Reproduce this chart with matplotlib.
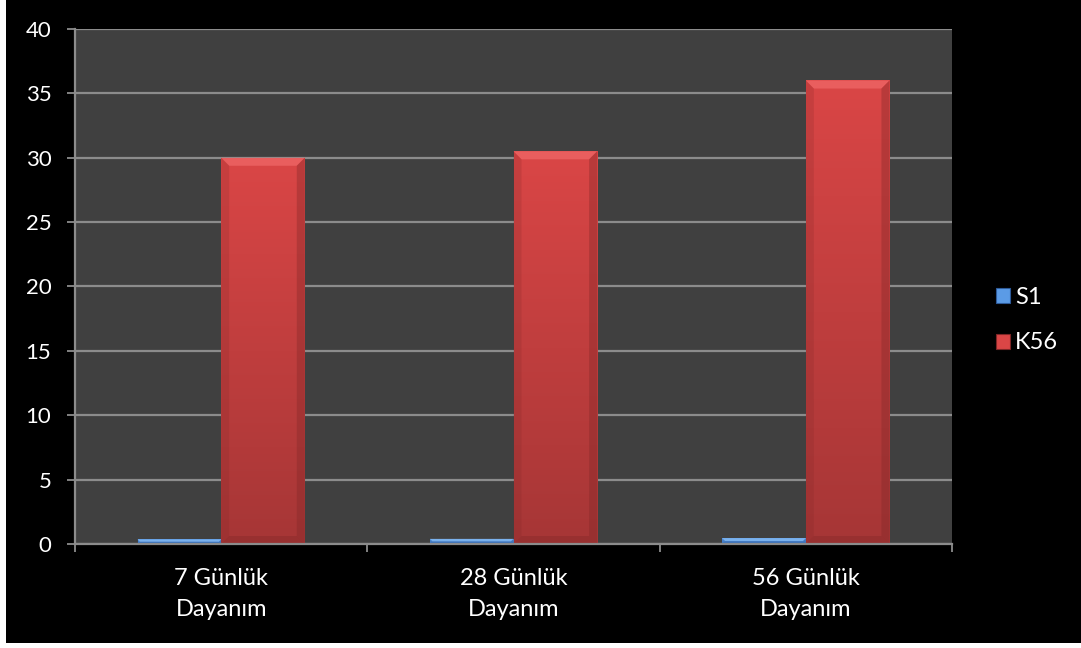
import numpy as np
import matplotlib
matplotlib.use("Agg")
import matplotlib.pyplot as plt
from matplotlib.patches import Rectangle, Polygon
from matplotlib.colors import LinearSegmentedColormap

# Strength results per curing age
categories = ["7 Günlük\nDayanım", "28 Günlük\nDayanım", "56 Günlük\nDayanım"]
series_names = ["S1", "K56"]
s1_values = [0.35, 0.40, 0.45]
k56_values = [30.0, 30.5, 36.0]
y_ticks = [0, 5, 10, 15, 20, 25, 30, 35, 40]

plt.rcParams["font.family"] = ["Lato", "DejaVu Sans"]

W, H, DPI = 1081, 648, 100
fig = plt.figure(figsize=(W / DPI, H / DPI), dpi=DPI, facecolor="white")

# black card behind the chart, leaving a thin white margin left and bottom
fig.patches.append(Rectangle((6 / W, 5 / H), 1 - 6 / W, 1 - 5 / H,
                             transform=fig.transFigure, facecolor="black",
                             edgecolor="none", zorder=-10))

left, right = 75 / W, 952 / W
bottom, top = (H - 544) / H, (H - 29) / H
ax = fig.add_axes([left, bottom, right - left, top - bottom])
ax.set_facecolor("#404040")

x = np.arange(len(categories))
bar_w = 0.286
xlim = (-0.5, len(categories) - 0.5)
ylim = (0, 40)
ax.set_xlim(*xlim)
ax.set_ylim(*ylim)

ax_px_w = (right - left) * W
ax_px_h = (top - bottom) * H
px_x = (xlim[1] - xlim[0]) / ax_px_w   # data units per pixel, x
px_y = (ylim[1] - ylim[0]) / ax_px_h   # data units per pixel, y

styles = {
    "S1": dict(top="#5B9BE6", bot="#3F78C4", light="#8CC0F5", dark="#2D5A99"),
    "K56": dict(top="#DA4646", bot="#A63636", light="#F06A6A", dark="#7E2626"),
}


def beveled_bar(xc, val, st):
    x0, x1 = xc - bar_w / 2, xc + bar_w / 2
    y0, y1 = 0.0, val
    rect = Rectangle((x0, y0), bar_w, val, facecolor=st["top"],
                     edgecolor="none", zorder=3)
    ax.add_patch(rect)
    cmap = LinearSegmentedColormap.from_list("g", [st["bot"], st["top"]])
    grad = np.linspace(0, 1, 256).reshape(-1, 1)
    im = ax.imshow(grad, cmap=cmap, extent=(x0, x1, y0, y1), origin="lower",
                   aspect="auto", zorder=3.1, interpolation="bicubic")
    im.set_clip_path(rect)
    bpx = min(8.0, (val / px_y) / 2.0, (bar_w / px_x) / 2.0)
    bx, by = bpx * px_x, bpx * px_y
    # top bevel (highlight)
    ax.add_patch(Polygon([(x0, y1), (x1, y1), (x1 - bx, y1 - by), (x0 + bx, y1 - by)],
                         closed=True, facecolor=st["light"], edgecolor="none",
                         alpha=0.7, zorder=3.2))
    # side bevels (shade)
    ax.add_patch(Polygon([(x0, y1), (x0 + bx, y1 - by), (x0 + bx, y0 + by), (x0, y0)],
                         closed=True, facecolor=st["dark"], edgecolor="none",
                         alpha=0.2, zorder=3.2))
    ax.add_patch(Polygon([(x1, y1), (x1 - bx, y1 - by), (x1 - bx, y0 + by), (x1, y0)],
                         closed=True, facecolor=st["dark"], edgecolor="none",
                         alpha=0.35, zorder=3.2))
    # bottom bevel
    ax.add_patch(Polygon([(x0, y0), (x1, y0), (x1 - bx, y0 + by), (x0 + bx, y0 + by)],
                         closed=True, facecolor=st["dark"], edgecolor="none",
                         alpha=0.35, zorder=3.2))


for i in range(len(categories)):
    beveled_bar(x[i] - bar_w / 2, s1_values[i], styles["S1"])
    beveled_bar(x[i] + bar_w / 2, k56_values[i], styles["K56"])

ax.set_xlim(*xlim)
ax.set_ylim(*ylim)

grid_c = "#8C8C8C"
ax.set_yticks(y_ticks)
ax.yaxis.grid(True, color=grid_c, linewidth=1.6, zorder=1)
ax.set_axisbelow(True)
for s in ["top", "right"]:
    ax.spines[s].set_visible(False)
for s in ["left", "bottom"]:
    ax.spines[s].set_color(grid_c)
    ax.spines[s].set_linewidth(1.6)
    ax.spines[s].set_zorder(5)

# category labels centred, ticks on category boundaries
ax.set_xticks(np.arange(xlim[0], xlim[1] + 0.01, 1.0))
ax.set_xticklabels([])
ax.set_xticks(x, minor=True)
ax.set_xticklabels(categories, minor=True, color="white", fontsize=17,
                   linespacing=1.6)
ax.tick_params(axis="x", which="minor", length=0, pad=17)
ax.tick_params(axis="x", which="major", length=6, width=1.3, color=grid_c)
ax.tick_params(axis="y", length=6, width=1.3, color=grid_c, labelcolor="white",
               labelsize=16, pad=11)

handles = [Rectangle((0, 0), 1, 1, facecolor=styles[n]["top"], edgecolor=styles[n]["dark"],
                     linewidth=0.8) for n in series_names]
leg = fig.legend(handles, series_names, loc="center left",
                 bbox_to_anchor=(975 / W, (H - 320) / H), frameon=False,
                 fontsize=17, labelcolor="white", handlelength=0.6,
                 handleheight=0.6, handletextpad=0.2, labelspacing=1.05)

fig.savefig("out.png", dpi=DPI, facecolor=fig.get_facecolor())
